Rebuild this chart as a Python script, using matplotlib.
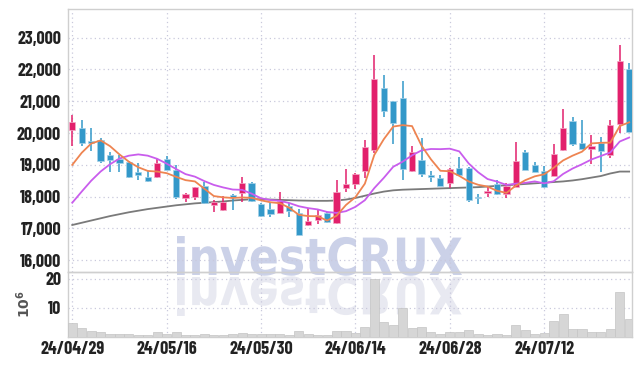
import matplotlib
matplotlib.use("Agg")
import matplotlib.pyplot as plt
from matplotlib import font_manager
from matplotlib.textpath import TextPath
from matplotlib.patches import PathPatch
from matplotlib.font_manager import FontProperties
from matplotlib.transforms import Affine2D, IdentityTransform

# OHLC (원), 거래량 (백만주), 이동평균선
opens = [20100, 20170, 19760, 19770, 19320, 19200, 19080, 18770, 18620, 18610,
         19190, 18850, 17970, 18000, 18340, 17750, 17590, 18040, 18125, 18420,
         17770, 17610, 17500, 17720, 17480, 17100, 17260, 17500, 17180, 18280,
         18390, 18800, 19475, 21420, 21000, 21100, 18800, 19145, 18680, 18575,
         18440, 18910, 18910, 17990, 18110, 18400, 18080, 18320, 19420, 19000,
         18810, 18660, 19460, 20375, 19700, 19510, 19690, 19300, 20300, 22000]
highs = [20580, 20420, 20160, 19850, 19400, 19320, 19120, 19050, 18800, 19190,
         19290, 19000, 18130, 18310, 18460, 17890, 18020, 18080, 18630, 18450,
         17800, 17800, 18140, 17810, 17600, 17650, 17580, 17530, 18540, 18880,
         18730, 19790, 22450, 21820, 21000, 21650, 19600, 19850, 18810, 18680,
         18900, 19260, 18920, 18100, 18310, 18525, 18440, 19730, 19460, 19080,
         18980, 19660, 20750, 20500, 20410, 19930, 19880, 20410, 22760, 22200]
lows = [19580, 19600, 19430, 19050, 18780, 18780, 18600, 18530, 18450, 18600,
        18830, 17920, 17820, 17890, 17760, 17520, 17560, 17590, 17840, 17830,
        17350, 17350, 17500, 17350, 16800, 17090, 17150, 17180, 17140, 18140,
        18230, 18580, 19370, 20500, 19660, 18520, 18790, 18630, 18470, 18340,
        18260, 18680, 17820, 17760, 17980, 18060, 17950, 18300, 18850, 18780,
        18280, 18650, 19450, 19585, 19500, 19040, 18790, 19210, 20000, 20030]
closes = [20350, 19680, 19690, 19130, 19160, 19050, 18610, 18670, 18500, 19070,
          18850, 18000, 18100, 18290, 17790, 17820, 17845, 17980, 18425, 17850,
          17400, 17450, 17860, 17550, 16810, 17230, 17420, 17190, 18150, 18390,
          18720, 19565, 21700, 20700, 20310, 18880, 19410, 18715, 18610, 18345,
          18880, 18690, 17900, 17950, 18190, 18080, 18335, 19120, 18855, 18790,
          18290, 19355, 20175, 19670, 19510, 19605, 19430, 20240, 22260, 20040]
volumes = [4.9, 3.2, 2.15, 1.7, 1.1, 1.1, 1.1, 0.8, 0.8, 1.8,
           1.2, 1.8, 0.8, 0.8, 1.2, 0.8, 0.6, 0.9, 1.5, 1.2,
           1.0, 1.0, 1.2, 0.8, 2.0, 1.1, 0.8, 0.8, 2.2, 2.2,
           1.5, 3.5, 20.1, 5.2, 4.3, 10.1, 3.2, 3.5, 1.8, 1.1,
           1.8, 1.8, 2.5, 1.2, 0.8, 1.1, 0.8, 4.2, 2.5, 1.1,
           1.5, 5.6, 7.9, 2.8, 2.8, 1.8, 1.8, 2.8, 15.5, 6.2]
ma_short = [19000, 19380, 19670, 19770, 19590, 19330, 19100, 18925, 18810, 18790,
            18740, 18625, 18520, 18480, 18250, 18020, 17980, 17960, 17975, 17965,
            17885, 17825, 17795, 17650, 17430, 17390, 17385, 17250, 17400, 17740,
            17985, 18410, 19315, 19805, 20205, 20250, 20220, 19605, 19175, 18815,
            18800, 18655, 18478, 18375, 18318, 18185, 18120, 18350, 18520, 18640,
            18705, 18910, 19140, 19290, 19415, 19675, 19695, 19700, 20220, 20340]
ma_mid = [17810, 18160, 18500, 18790, 19020, 19200, 19290, 19330, 19290, 19190,
          19040, 18870, 18710, 18630, 18490, 18370, 18290, 18225, 18215, 18095,
          17950, 17895, 17870, 17800, 17700, 17640, 17600, 17520, 17490, 17545,
          17680, 17890, 18270, 18590, 18940, 19100, 19300, 19455, 19500, 19495,
          19510, 19425, 19045, 18770, 18555, 18475, 18370, 18410, 18435, 18480,
          18420, 18485, 18715, 18885, 19020, 19170, 19280, 19390, 19735, 19860]
ma_long = [17110, 17180, 17250, 17320, 17390, 17450, 17510, 17560, 17610, 17650,
           17690, 17730, 17760, 17790, 17810, 17830, 17850, 17880, 17900, 17920,
           17920, 17910, 17900, 17890, 17880, 17875, 17870, 17870, 17880, 17910,
           17960, 18030, 18100, 18160, 18200, 18220, 18230, 18240, 18250, 18260,
           18270, 18280, 18290, 18300, 18320, 18340, 18360, 18380, 18400, 18420,
           18440, 18460, 18480, 18510, 18550, 18600, 18650, 18730, 18790, 18790]
tick_pos = [0, 10, 20, 30, 40, 50]
tick_labels = ["24/04/29", "24/05/16", "24/05/30", "24/06/14", "24/06/28", "24/07/12"]
price_ticks = [16000, 17000, 18000, 19000, 20000, 21000, 22000, 23000]
vol_ticks = [10, 20]

UP, UP_EDGE = "#e2206c", "#f3a9c6"
DOWN, DOWN_EDGE = "#3398c9", "#a6d2e8"
GRID = "#c9c9dc"
SPINE = "#cfcfcf"

# 좁은 글꼴이 있으면 사용, 없으면 Liberation Sans
names = {f.name for f in font_manager.fontManager.ttflist}
if "Barlow Condensed" in names:
    plt.rcParams["font.family"] = ["Barlow Condensed", "DejaVu Sans"]
    plt.rcParams["font.weight"] = "bold"
    plt.rcParams["font.size"] = 13
else:
    plt.rcParams["font.family"] = ["Liberation Sans", "DejaVu Sans"]
    plt.rcParams["font.weight"] = "bold"
    plt.rcParams["font.size"] = 9.5

W, H = 642, 366
fig = plt.figure(figsize=(W / 100, H / 100), dpi=100)
ax = fig.add_axes([68 / W, 1 - 272 / H, 564 / W, 263 / H])
axv = fig.add_axes([68 / W, 1 - 337 / H, 564 / W, 65 / H], sharex=ax)

# 워터마크 (정상 + 반사)
fp = FontProperties(family="DejaVu Sans", weight="bold")
tp = TextPath((0, 0), "investCRUX", size=100, prop=fp)
ext = tp.get_extents()
sx = (462 - 177) / ext.width
sy = (130 - 91) / ext.y1
t_main = Affine2D().translate(-ext.x0, 0).scale(sx, sy).translate(177, H - 275)
fig.patches.append(PathPatch(t_main.transform_path(tp), fc="#cbd1e8", ec="none",
                             transform=IdentityTransform(), zorder=-1))
t_refl = Affine2D().translate(-ext.x0, 0).scale(sx, -sy).translate(177, H - 277)
fig.patches.append(PathPatch(t_refl.transform_path(tp), fc="#e8e9f1", ec="none",
                             transform=IdentityTransform(), zorder=-1))

for a in (ax, axv):
    a.set_facecolor("none")
    for s in a.spines.values():
        s.set_color(SPINE)
        s.set_linewidth(1.0)
    a.tick_params(length=0, colors="#222222")
    a.grid(True, color=GRID, linestyle=(0, (1, 2.5)), linewidth=0.9)
    a.set_axisbelow(True)

x = list(range(len(closes)))
up = [c >= o for o, c in zip(opens, closes)]
colors = [UP if u else DOWN for u in up]
edges = [UP_EDGE if u else DOWN_EDGE for u in up]
bottoms = [min(o, c) for o, c in zip(opens, closes)]
heights = [max(abs(c - o), 15) for o, c in zip(opens, closes)]

ax.vlines(x, lows, highs, colors=colors, linewidth=1.1, zorder=3)
ax.bar(x, heights, bottom=bottoms, width=0.66, color=colors,
       edgecolor=edges, linewidth=0.5, zorder=4)
ax.plot(x, ma_long, color="#7a7a7a", linewidth=1.3, zorder=2)
ax.plot(x, ma_mid, color="#c95ded", linewidth=1.3, zorder=5)
ax.plot(x, ma_short, color="#ee8451", linewidth=1.3, zorder=5)

ax.set_ylim(15632, 23902)
ax.set_yticks(price_ticks)
ax.set_yticklabels([f"{v:,}" for v in price_ticks])
ax.set_xlim(-0.45, 59.3)
ax.set_xticks(tick_pos)
ax.tick_params(axis="x", labelbottom=False)

axv.bar(x, volumes, width=0.96, color="#d6d6d6", edgecolor="#c4c4c4",
        linewidth=0.5, zorder=3)
axv.set_ylim(0, 22.4)
axv.set_yticks(vol_ticks)
axv.set_xticks(tick_pos)
axv.set_xticklabels(tick_labels)
axv.set_ylabel(r"$10^6$", color="#555555", fontsize=10, fontweight="normal")
axv.yaxis.set_label_coords(-0.062, 0.5)

ax.tick_params(axis="y", pad=5)
axv.tick_params(axis="y", pad=5)
axv.tick_params(axis="x", pad=3)

fig.savefig("out.png", dpi=100)
